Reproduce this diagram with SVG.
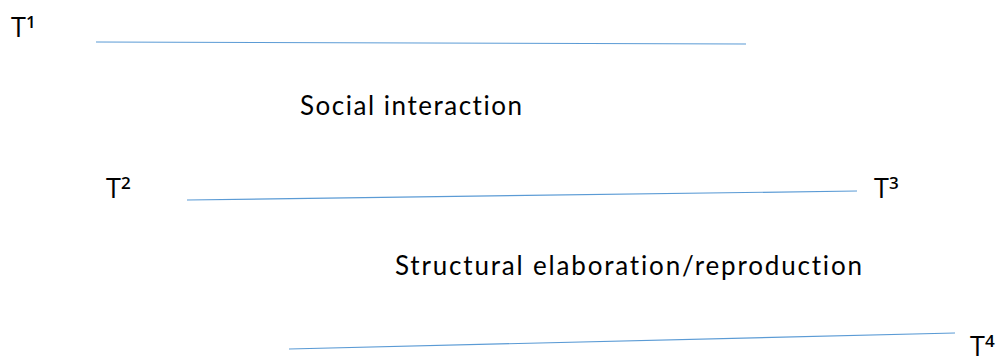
<svg xmlns="http://www.w3.org/2000/svg" width="998" height="364" viewBox="0 0 998 364">
<style>
.ln{stroke:#5B9BD5;stroke-width:1.2;fill:none}
.lbl{font-family:Lato,"Open Sans","Liberation Sans",sans-serif;fill:#000;font-size:26px;font-variant-ligatures:none;font-feature-settings:"liga" 0}
.t{font-family:"Open Sans","Liberation Sans",sans-serif;fill:#000;font-size:27px}
.sup{font-size:17px;font-weight:600}
</style>
<rect width="998" height="364" fill="#fff"/>
<g id="connectors">
<line class="ln" x1="96" y1="42" x2="746" y2="44"/>
<line class="ln" x1="187" y1="200" x2="857" y2="191"/>
<line class="ln" x1="289" y1="349" x2="955" y2="333"/>
</g>
<g id="T1"><text class="t" x="11" y="37">T<tspan class="sup" dy="-9">1</tspan></text></g>
<g id="T2"><text class="t" x="106" y="198">T<tspan class="sup" dy="-9">2</tspan></text></g>
<g id="T3"><text class="t" x="874" y="198">T<tspan class="sup" dy="-9">3</tspan></text></g>
<g id="T4"><text class="t" x="970" y="356">T<tspan class="sup" dy="-9">4</tspan></text></g>
<g id="social"><text class="lbl" x="300" y="115" textLength="222">Social interaction</text></g>
<g id="structural"><text class="lbl" x="395" y="275" textLength="467">Structural elaboration/reproduction</text></g>
</svg>
